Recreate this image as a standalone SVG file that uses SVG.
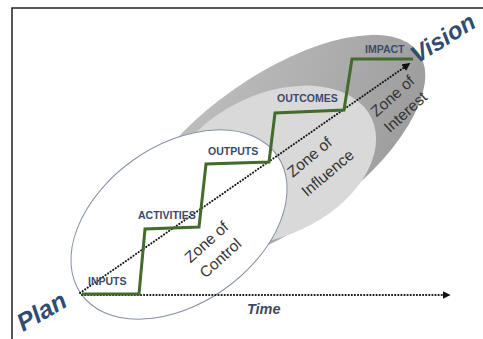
<svg xmlns="http://www.w3.org/2000/svg" width="483" height="339" viewBox="0 0 483 339">
<style>
.lbl{font-family:"Liberation Sans",Arial,sans-serif;font-weight:bold;font-size:10.5px;fill:#3b4a6d}
.zone{font-family:"Liberation Sans",Arial,sans-serif;font-size:15.5px;fill:#333;text-anchor:middle}
.big{font-family:"Liberation Sans",Arial,sans-serif;font-weight:bold;font-style:italic;fill:#2f4d72}
.dot{fill:none;stroke:#111;stroke-width:2;stroke-linecap:round;stroke-dasharray:0.2 2.9}
.stair{fill:none;stroke:#436b2c;stroke-width:3;stroke-linejoin:miter}
</style>
<defs>
<marker id="ah" viewBox="0 0 10 10" refX="8" refY="5" markerWidth="4" markerHeight="4" orient="auto" markerUnits="strokeWidth">
<path d="M0,0 L10,5 L0,10 Z" fill="#111"/>
</marker>
<linearGradient id="gDark" x1="0" y1="0" x2="1" y2="0.6">
<stop offset="0" stop-color="#c6c6c6"/>
<stop offset="0.6" stop-color="#b0b0b0"/>
<stop offset="1" stop-color="#9e9e9e"/>
</linearGradient>
</defs>
<rect x="0" y="0" width="483" height="339" fill="#fff"/>
<path d="M12,339 V8 H483" fill="none" stroke="#222" stroke-width="1.5"/>
<g id="zone-interest">
<ellipse cx="277" cy="152" rx="173" ry="76" transform="rotate(-35 277 152)" fill="url(#gDark)"/>
</g>
<g id="zone-influence">
<ellipse cx="272" cy="165" rx="110" ry="71" transform="rotate(-25 272 165)" fill="#d9d9d9"/>
</g>
<g id="zone-control">
<ellipse cx="179" cy="224.5" rx="120" ry="79" transform="rotate(-35.3 179 224.5)" fill="#fff" stroke="#8590a4" stroke-width="1"/>
</g>
<g id="connectors">
<path class="dot" d="M82,295 H449" marker-end="url(#ah)"/>
<path class="dot" d="M80,293 L409,64" marker-end="url(#ah)"/>
<path id="staircase" class="stair" d="M82,294 H139 L145,229 L199,227 L206,164 L269,162 L275,113 L344,110 L352,59 H413"/>
</g>
<g id="labels">
<text class="lbl" x="88" y="285">INPUTS</text>
<text class="lbl" x="138" y="219">ACTIVITIES</text>
<text class="lbl" x="208" y="155">OUTPUTS</text>
<text class="lbl" x="277" y="102">OUTCOMES</text>
<text class="lbl" x="365" y="53">IMPACT</text>
</g>
<g id="zone-texts">
<text class="zone" transform="translate(210,246) rotate(-42)">Zone of</text>
<text class="zone" transform="translate(224,262) rotate(-42)">Control</text>
<text class="zone" transform="translate(313,161) rotate(-40)">Zone of</text>
<text class="zone" transform="translate(331,177) rotate(-40)">Influence</text>
<text class="zone" transform="translate(396,100) rotate(-42)">Zone of</text>
<text class="zone" transform="translate(409,116) rotate(-42)">Interest</text>
</g>
<g id="plan"><text class="big" font-size="25" transform="translate(23,332) rotate(-30)">Plan</text></g>
<g id="vision"><text class="big" font-size="24" transform="translate(417,64) rotate(-32)">Vision</text></g>
<g id="time"><text class="big" font-size="14.5" x="247" y="314" style="fill:#3b4b63">Time</text></g>
</svg>
